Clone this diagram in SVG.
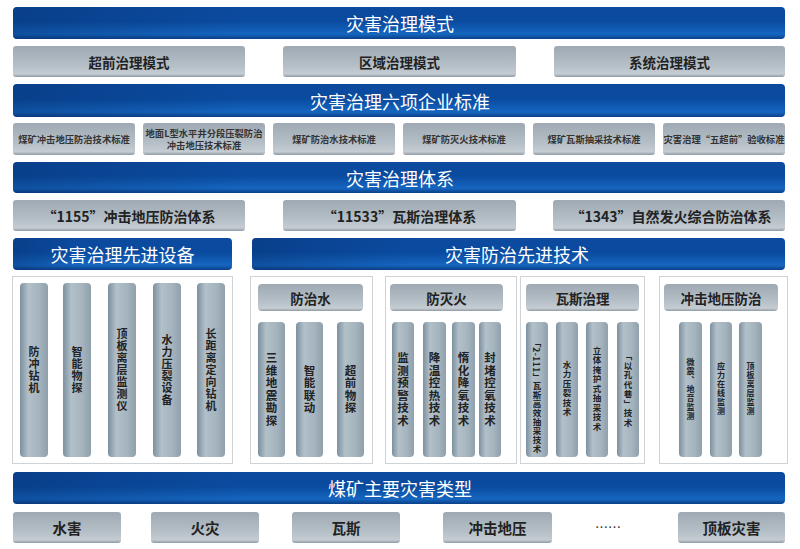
<svg xmlns="http://www.w3.org/2000/svg" width="800" height="549" viewBox="0 0 800 549">
<defs>
<linearGradient id="gBlue" x1="0" y1="0" x2="0" y2="1">
<stop offset="0" stop-color="#0c4a9e"/>
<stop offset="0.45" stop-color="#0a4b9f"/>
<stop offset="0.85" stop-color="#1566c0"/>
<stop offset="1" stop-color="#0b3f86"/>
</linearGradient>
<linearGradient id="gBlueH" x1="0" y1="0" x2="1" y2="0">
<stop offset="0" stop-color="#062a66" stop-opacity="0.35"/>
<stop offset="0.3" stop-color="#062a66" stop-opacity="0"/>
<stop offset="1" stop-color="#062a66" stop-opacity="0"/>
</linearGradient>
<linearGradient id="gGray" x1="0" y1="0" x2="0" y2="1">
<stop offset="0" stop-color="#9ea9b3"/>
<stop offset="0.6" stop-color="#b4bec6"/>
<stop offset="0.9" stop-color="#c5ccd2"/>
<stop offset="1" stop-color="#8e9aa4"/>
</linearGradient>
<linearGradient id="gCol" x1="0" y1="0" x2="1" y2="0">
<stop offset="0" stop-color="#7d909f"/>
<stop offset="0.3" stop-color="#b2c0c9"/>
<stop offset="0.7" stop-color="#a4b3bd"/>
<stop offset="1" stop-color="#8fa0ac"/>
</linearGradient>
<style>
.bb{fill:url(#gBlue);}
.bh{fill:url(#gBlueH);}
.gb{fill:url(#gGray);}
.col{fill:url(#gCol);}
.panel{fill:#ffffff;stroke:#cfd3d6;stroke-width:1;}
text{font-family:"Noto Sans CJK SC","Noto Sans",sans-serif;dominant-baseline:central;text-anchor:middle;}
.tw{fill:#ffffff;font-size:18px;}
.tg{fill:#222;font-size:13.5px;font-weight:bold;}
.ts{fill:#333;font-size:9.3px;font-weight:bold;}
.tsys{fill:#222;font-size:14px;font-weight:bold;}
.tbot{fill:#222;font-size:14.5px;font-weight:bold;}
.v{fill:#222;font-weight:bold;writing-mode:vertical-rl;}
.v12{font-size:11px;letter-spacing:1px;}
.v12b{font-size:11.5px;letter-spacing:1px;}
.v10{font-size:8.5px;letter-spacing:1px;}
.v9{font-size:8px;letter-spacing:1px;}
</style>
</defs>
<rect width="800" height="549" fill="#ffffff"/>

<g id="mode-title"><rect x="13" y="7" width="772" height="32" rx="4" class="bb"/><rect x="13" y="7" width="772" height="32" rx="4" class="bh"/><text x="400" y="23" class="tw">灾害治理模式</text></g>
<g id="mode-1"><rect x="13" y="46" width="232" height="31" rx="3" class="gb"/><text x="129" y="61.5" class="tg">超前治理模式</text></g>
<g id="mode-2"><rect x="283" y="46" width="233" height="31" rx="3" class="gb"/><text x="399.5" y="61.5" class="tg">区域治理模式</text></g>
<g id="mode-3"><rect x="554" y="46" width="231" height="31" rx="3" class="gb"/><text x="669.5" y="61.5" class="tg">系统治理模式</text></g>

<g id="std-title"><rect x="13" y="84" width="772" height="33" rx="4" class="bb"/><rect x="13" y="84" width="772" height="33" rx="4" class="bh"/><text x="400" y="100.5" class="tw">灾害治理六项企业标准</text></g>
<g id="std-1"><rect x="13" y="123" width="122" height="32" rx="3" class="gb"/><text x="74" y="139" class="ts">煤矿冲击地压防治技术标准</text></g>
<g id="std-2"><rect x="143" y="123" width="122" height="32" rx="3" class="gb"/><text x="204" y="132.5" class="ts">地面L型水平井分段压裂防治</text><text x="204" y="145" class="ts">冲击地压技术标准</text></g>
<g id="std-3"><rect x="273" y="123" width="122" height="32" rx="3" class="gb"/><text x="334" y="139" class="ts">煤矿防治水技术标准</text></g>
<g id="std-4"><rect x="403" y="123" width="122" height="32" rx="3" class="gb"/><text x="464" y="139" class="ts">煤矿防灭火技术标准</text></g>
<g id="std-5"><rect x="533" y="123" width="122" height="32" rx="3" class="gb"/><text x="594" y="139" class="ts">煤矿瓦斯抽采技术标准</text></g>
<g id="std-6"><rect x="663" y="123" width="122" height="32" rx="3" class="gb"/><text x="724" y="139" class="ts">灾害治理“五超前”验收标准</text></g>

<g id="sys-title"><rect x="13" y="162" width="772" height="31" rx="4" class="bb"/><rect x="13" y="162" width="772" height="31" rx="4" class="bh"/><text x="400" y="177.5" class="tw">灾害治理体系</text></g>
<g id="sys-1"><rect x="13" y="200" width="232" height="31" rx="3" class="gb"/><text x="129" y="215.5" class="tsys">“1155”冲击地压防治体系</text></g>
<g id="sys-2"><rect x="283" y="200" width="233" height="31" rx="3" class="gb"/><text x="399.5" y="215.5" class="tsys">“11533”瓦斯治理体系</text></g>
<g id="sys-3"><rect x="553" y="200" width="232" height="31" rx="3" class="gb"/><text x="671" y="215.5" class="tsys">“1343”自然发火综合防治体系</text></g>

<g id="equip-title"><rect x="13" y="238" width="219" height="32" rx="4" class="bb"/><rect x="13" y="238" width="219" height="32" rx="4" class="bh"/><text x="122.5" y="254" class="tw">灾害治理先进设备</text></g>
<g id="tech-title"><rect x="252" y="238" width="533" height="32" rx="4" class="bb"/><rect x="252" y="238" width="533" height="32" rx="4" class="bh"/><text x="517" y="254" class="tw">灾害防治先进技术</text></g>

<g id="equip-panel">
<rect x="12.5" y="276.5" width="220" height="187" class="panel"/>
<rect x="20" y="283" width="28" height="174" rx="4" class="col"/><text x="34" y="370" class="v v12">防冲钻机</text>
<rect x="63" y="283" width="28" height="174" rx="4" class="col"/><text x="77" y="370" class="v v12">智能物探</text>
<rect x="108" y="283" width="28" height="174" rx="4" class="col"/><text x="122" y="370" class="v v12">顶板离层监测仪</text>
<rect x="153" y="283" width="28" height="174" rx="4" class="col"/><text x="167" y="370" class="v v12">水力压裂设备</text>
<rect x="197" y="283" width="28" height="174" rx="4" class="col"/><text x="211" y="370" class="v v12">长距离定向钻机</text>
</g>

<g id="water-panel">
<rect x="250.5" y="276.5" width="122" height="187" class="panel"/>
<rect x="258" y="284" width="105" height="27" rx="4" class="gb"/><text x="310.5" y="297.5" class="tg">防治水</text>
<rect x="258" y="322" width="27" height="135" rx="4" class="col"/><text x="271.5" y="389.5" class="v v12b">三维地震勘探</text>
<rect x="296" y="322" width="27" height="135" rx="4" class="col"/><text x="309.5" y="389.5" class="v v12b">智能联动</text>
<rect x="337" y="322" width="27" height="135" rx="4" class="col"/><text x="350.5" y="389.5" class="v v12b">超前物探</text>
</g>

<g id="fire-panel">
<rect x="385.5" y="276.5" width="131" height="187" class="panel"/>
<rect x="390" y="284" width="113" height="27" rx="4" class="gb"/><text x="446.5" y="297.5" class="tg">防灭火</text>
<rect x="392" y="322" width="22" height="135" rx="4" class="col"/><text x="403" y="389.5" class="v v12b">监测预警技术</text>
<rect x="423" y="322" width="23" height="135" rx="4" class="col"/><text x="434.5" y="389.5" class="v v12b">降温控热技术</text>
<rect x="452" y="322" width="23" height="135" rx="4" class="col"/><text x="463.5" y="389.5" class="v v12b">惰化降氧技术</text>
<rect x="479" y="322" width="22" height="135" rx="4" class="col"/><text x="490" y="389.5" class="v v12b">封堵控氧技术</text>
</g>

<g id="gas-panel">
<rect x="520.5" y="276.5" width="124" height="187" class="panel"/>
<rect x="526" y="284" width="113" height="27" rx="4" class="gb"/><text x="582.5" y="297.5" class="tg">瓦斯治理</text>
<rect x="526" y="322" width="22" height="135" rx="4" class="col"/><text x="537" y="396" class="v v10" style="letter-spacing:0.5px">「2-111」瓦斯高效抽采技术</text>
<rect x="556" y="322" width="22" height="135" rx="4" class="col"/><text x="567" y="389" class="v v10">水力压裂技术</text>
<rect x="586" y="322" width="22" height="135" rx="4" class="col"/><text x="597" y="389" class="v v10">立体掩护式抽采技术</text>
<rect x="617" y="322" width="22" height="135" rx="4" class="col"/><text x="628" y="390" class="v v10">「以孔代巷」技术</text>
</g>

<g id="rock-panel">
<rect x="659.5" y="276.5" width="128" height="187" class="panel"/>
<rect x="664" y="284" width="114" height="27" rx="4" class="gb"/><text x="721" y="297.5" class="tg">冲击地压防治</text>
<rect x="679" y="322" width="23" height="135" rx="4" class="col"/><text x="690.5" y="389" class="v v9">微震、地音监测</text>
<rect x="710" y="322" width="22" height="135" rx="4" class="col"/><text x="721" y="389" class="v v9">应力在线监测</text>
<rect x="739" y="322" width="23" height="135" rx="4" class="col"/><text x="750.5" y="389" class="v v9">顶板离层监测</text>
</g>

<g id="type-title"><rect x="13" y="472" width="772" height="32" rx="4" class="bb"/><rect x="13" y="472" width="772" height="32" rx="4" class="bh"/><text x="400" y="488" class="tw">煤矿主要灾害类型</text></g>
<g id="type-1"><rect x="13" y="512" width="108" height="31" rx="3" class="gb"/><text x="67" y="527.5" class="tbot">水害</text></g>
<g id="type-2"><rect x="151" y="512" width="108" height="31" rx="3" class="gb"/><text x="205" y="527.5" class="tbot">火灾</text></g>
<g id="type-3"><rect x="292" y="512" width="108" height="31" rx="3" class="gb"/><text x="346" y="527.5" class="tbot">瓦斯</text></g>
<g id="type-4"><rect x="443" y="512" width="109" height="31" rx="3" class="gb"/><text x="497.5" y="527.5" class="tbot">冲击地压</text></g>
<g id="type-more"><text x="608" y="526" style="fill:#333;font-size:13px;">……</text></g>
<g id="type-5"><rect x="678" y="512" width="107" height="31" rx="3" class="gb"/><text x="731.5" y="527.5" class="tbot">顶板灾害</text></g>

<g id="connectors"></g>
</svg>
